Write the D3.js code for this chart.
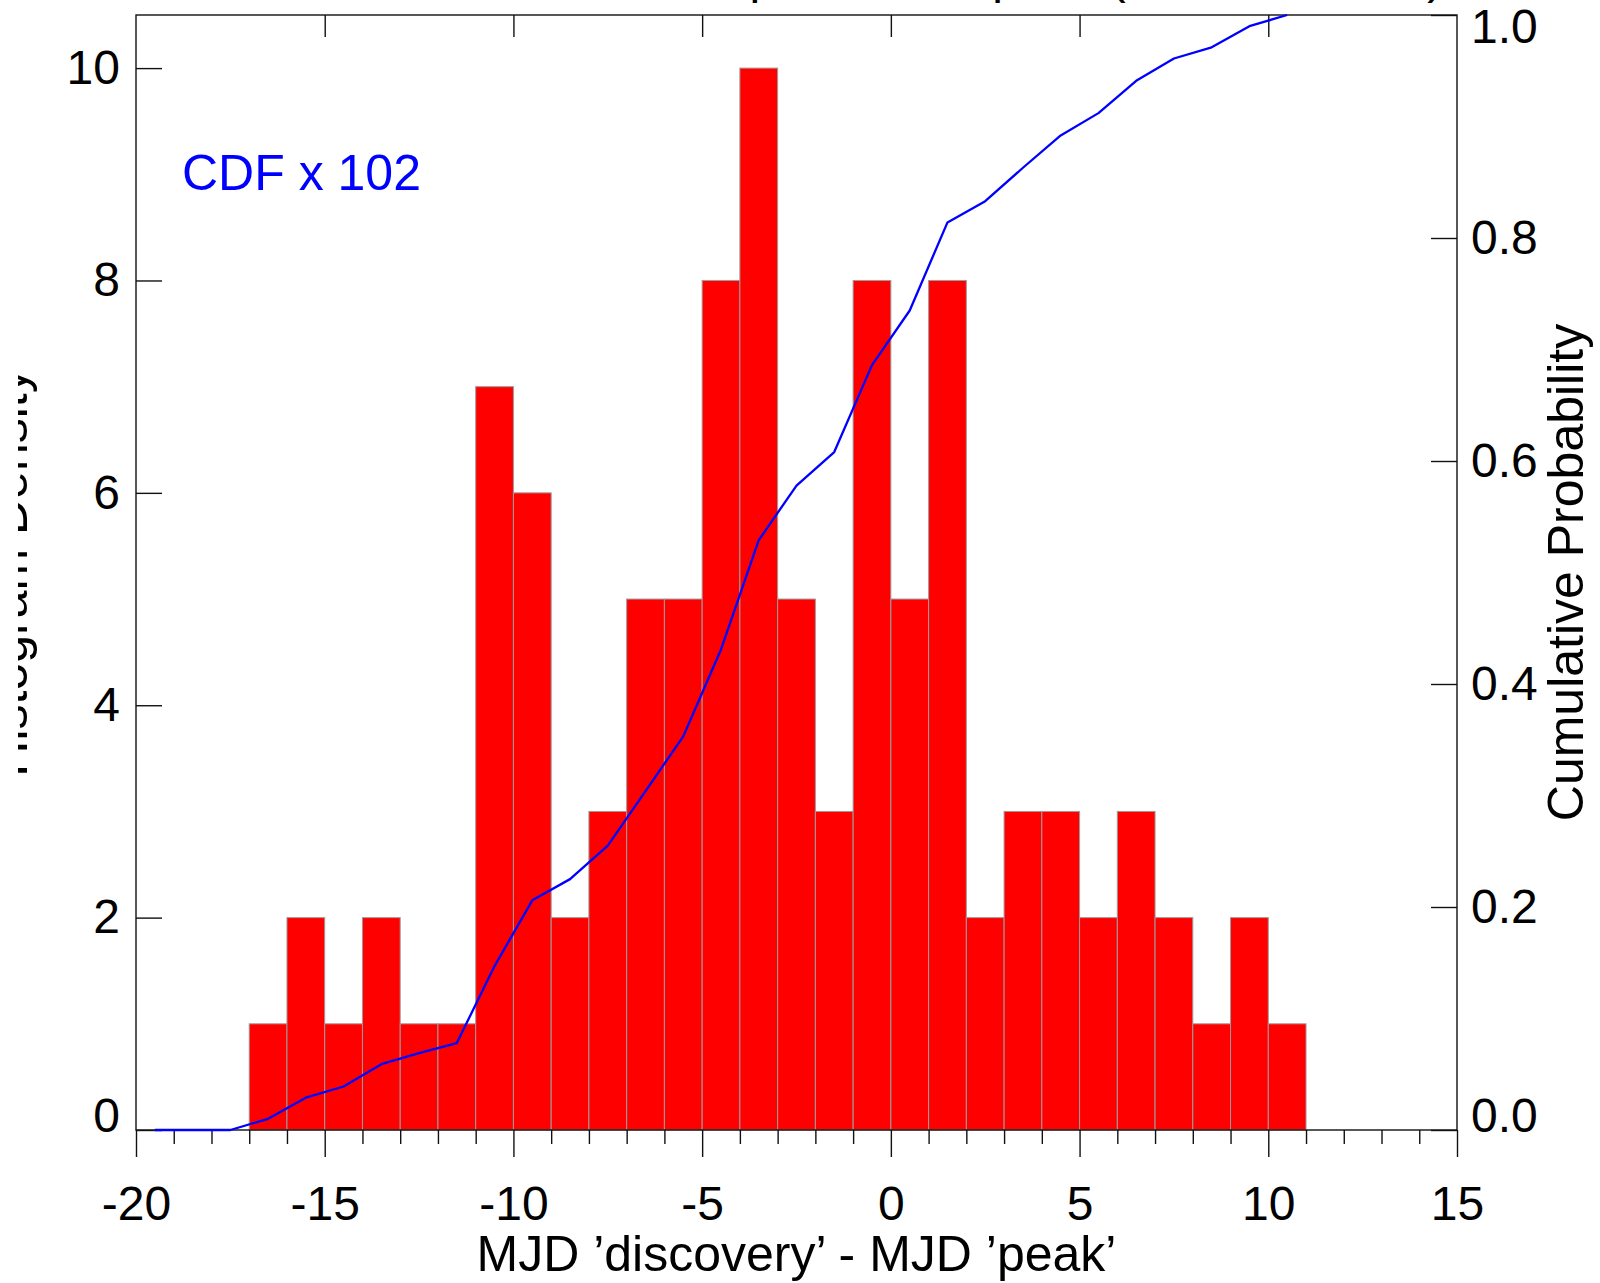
<!DOCTYPE html>
<html>
<head>
<meta charset="utf-8">
<script src="https://cdn.jsdelivr.net/npm/d3@7"></script>
<style>
    body { margin: 0; background: #fff; }
    svg { display: block; }
    text { font-family: "Liberation Sans", Arial, Helvetica, sans-serif; }
</style>
</head>
<body>
<div id="chart"></div>
<script>
// histogram bins (left edge, width 1 day) and counts
var binLeft = [-17, -16, -15, -14, -13, -12, -11, -10, -9, -8, -7, -6, -5, -4,
    -3, -2, -1, 0, 1, 2, 3, 4, 5, 6, 7, 8, 9, 10];
var binCounts = [1, 2, 1, 2, 1, 1, 7, 6, 2, 3, 5, 5, 8, 10,
    5, 3, 8, 5, 8, 2, 3, 3, 2, 3, 2, 1, 2, 1];

// cumulative distribution, read at bin centres
var cdfX = [-19.5, -18.5, -17.5, -16.5, -15.5, -14.5, -13.5, -12.5, -11.5, -10.5,
    -9.5, -8.5, -7.5, -6.5, -5.5, -4.5, -3.5, -2.5, -1.5, -0.5,
    0.5, 1.5, 2.5, 3.5, 4.5, 5.5, 6.5, 7.5, 8.5, 9.5, 10.5];
var cdfValues = [0, 0, 0, 0.010, 0.029, 0.039, 0.059, 0.069, 0.078, 0.147,
    0.206, 0.225, 0.255, 0.304, 0.353, 0.431, 0.529, 0.578, 0.608, 0.686,
    0.735, 0.814, 0.833, 0.863, 0.892, 0.912, 0.941, 0.961, 0.971, 0.990, 1.000];

var xMajorTicks = [-20, -15, -10, -5, 0, 5, 10, 15];
var xTopTicks = [-15, -10, -5, 0, 5, 10];
var yLeftTicks = [0, 2, 4, 6, 8, 10];
var yRightTicks = [0, 0.2, 0.4, 0.6, 0.8, 1.0];

var titleText = "SN Ia time of first detection prior to the peak (all 102 SNe Ia)";
var xLabel = "MJD \u2019discovery\u2019 - MJD \u2019peak\u2019";
var yLeftLabel = "Histogram Density";
var yRightLabel = "Cumulative Probability";
var cdfLabel = "CDF x 102";

var fullWidth = 1600, fullHeight = 1283;
var margin = { top: 15, right: 143, bottom: 153, left: 136 },
    width = fullWidth - margin.left - margin.right,
    height = fullHeight - margin.top - margin.bottom;

var svgRoot = d3.select("#chart")
    .append("svg")
    .attr("width", fullWidth)
    .attr("height", fullHeight);

// the left label is cut off in the original figure
svgRoot.append("defs").append("clipPath")
    .attr("id", "leftcut")
    .append("rect")
    .attr("x", 18).attr("y", 0)
    .attr("width", 200).attr("height", fullHeight);

var svg = svgRoot.append("g")
    .attr("transform", "translate(" + margin.left + "," + margin.top + ")");

var x = d3.scaleLinear().domain([-20, 15]).range([0, width]);
var y = d3.scaleLinear().domain([0, 10.5]).range([height, 0]);
var y2 = d3.scaleLinear().domain([0, 1]).range([height, 0]);

// bars
svg.append("g")
    .attr("class", "bars")
    .selectAll("rect")
    .data(binLeft)
    .enter().append("rect")
    .attr("x", function (d) { return x(d); })
    .attr("y", function (d, i) { return y(binCounts[i]); })
    .attr("width", function (d) { return x(d + 1) - x(d); })
    .attr("height", function (d, i) { return y(0) - y(binCounts[i]); })
    .style("fill", "#ff0000")
    .style("stroke", "#a09a9a")
    .style("stroke-width", 1);

// frame
svg.append("rect")
    .attr("x", 0).attr("y", 0)
    .attr("width", width).attr("height", height)
    .style("fill", "none")
    .style("stroke", "#111")
    .style("stroke-width", 1.4);

function styleAxis(g) {
    g.select(".domain").remove();
    g.selectAll(".tick line").style("stroke", "#111").style("stroke-width", 1.4);
    g.selectAll("text")
        .style("font-family", "'Liberation Sans', Arial, sans-serif")
        .style("font-size", "48px")
        .style("fill", "#000");
}

// plain hyphen minus like the original
var plain = function (d) { return String(d); };

// bottom axis, ticks hang below
svg.append("g")
    .attr("transform", "translate(0," + height + ")")
    .call(d3.axisBottom(x)
        .tickValues(d3.range(-20, 16).filter(function (v) { return v % 5 !== 0; }))
        .tickSize(14)
        .tickFormat(""))
    .call(styleAxis);

svg.append("g")
    .attr("transform", "translate(0," + height + ")")
    .call(d3.axisBottom(x)
        .tickValues(xMajorTicks)
        .tickSize(27)
        .tickPadding(29)
        .tickFormat(plain))
    .call(styleAxis);

// top axis, inward ticks only
svg.append("g")
    .call(d3.axisTop(x)
        .tickValues(xTopTicks)
        .tickSize(-22)
        .tickFormat(""))
    .call(styleAxis);

// left axis
svg.append("g")
    .call(d3.axisLeft(y)
        .tickValues(yLeftTicks)
        .tickSize(-26)
        .tickPadding(16)
        .tickFormat(plain))
    .call(styleAxis)
    .selectAll(".tick text")
    .attr("y", function (d) { return d === 0 ? -14 : 0; });

// right axis
svg.append("g")
    .attr("transform", "translate(" + width + ",0)")
    .call(d3.axisRight(y2)
        .tickValues(yRightTicks)
        .tickSize(-26)
        .tickPadding(14)
        .tickFormat(d3.format(".1f")))
    .call(styleAxis)
    .selectAll(".tick text")
    .attr("y", function (d) { return d === 0 ? -14 : (d === 1 ? 12 : 0); });

// cdf line
var line = d3.line()
    .x(function (d, i) { return x(cdfX[i]); })
    .y(function (d) { return y2(d); });

svg.append("path")
    .datum(cdfValues)
    .attr("d", line)
    .style("fill", "none")
    .style("stroke", "#0000ff")
    .style("stroke-width", 2.3)
    .style("stroke-linejoin", "round");

svg.append("text")
    .attr("x", 46)
    .attr("y", 175)
    .style("font-size", "50px")
    .style("fill", "#0000ff")
    .text(cdfLabel);

// labels (figure coordinates)
svgRoot.append("text")
    .attr("x", margin.left + width / 2)
    .attr("y", 1271)
    .attr("text-anchor", "middle")
    .style("font-size", "50px")
    .text(xLabel);

svgRoot.append("g")
    .attr("clip-path", "url(#leftcut)")
    .append("text")
    .attr("transform", "translate(27," + (margin.top + height / 2) + ") rotate(-90)")
    .attr("text-anchor", "middle")
    .style("font-size", "50px")
    .text(yLeftLabel);

svgRoot.append("text")
    .attr("transform", "translate(1583," + (margin.top + height / 2) + ") rotate(-90)")
    .attr("text-anchor", "middle")
    .style("font-size", "50px")
    .text(yRightLabel);

// title sits above the top edge, only descenders show
svgRoot.append("text")
    .attr("x", 160)
    .attr("y", -7)
    .style("font-size", "48px")
    .text(titleText);
</script>
</body>
</html>
